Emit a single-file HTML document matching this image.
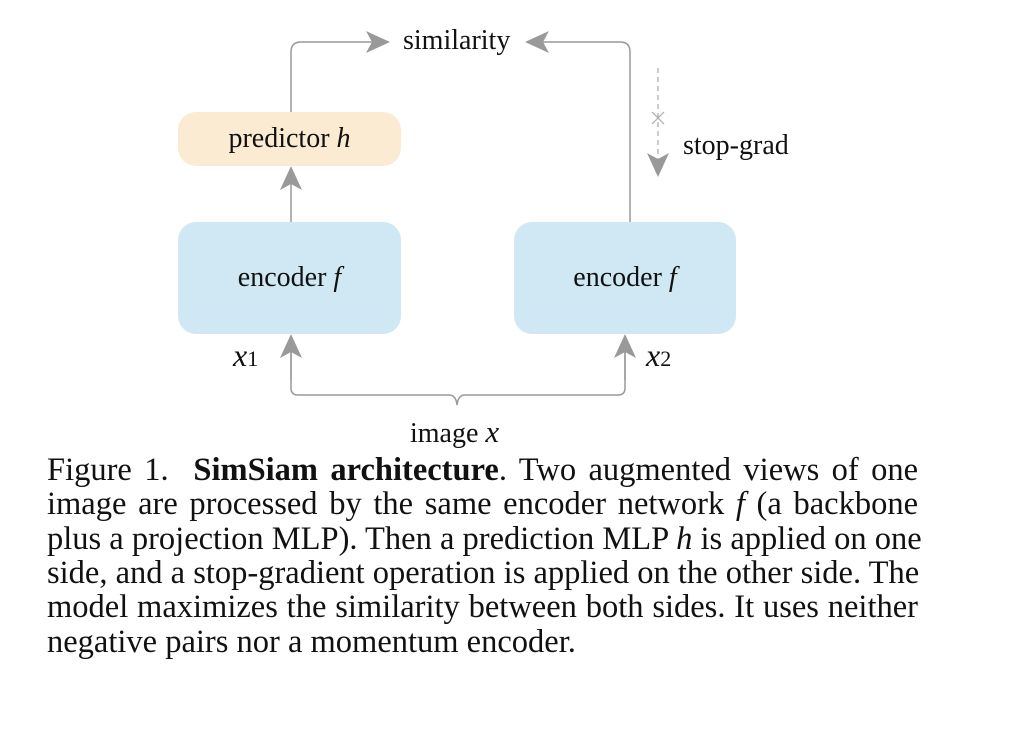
<!DOCTYPE html>
<html><head><meta charset="utf-8"><style>
body{margin:0;width:1026px;height:752px;background:#fff;position:relative;overflow:hidden;font-family:"Liberation Serif",serif;color:#111}
.box{position:absolute;border-radius:18px;display:flex;align-items:center;justify-content:center;font-size:28px}
.t{position:absolute;font-size:28px;white-space:nowrap;line-height:30px}
.cap{position:absolute;left:47px;width:871px;font-size:32.5px;line-height:34px;text-align:justify;text-align-last:justify;white-space:nowrap}
i{font-style:italic}
</style></head><body>
<svg width="1026" height="752" style="position:absolute;left:0;top:0">
<defs>
<marker id="b" viewBox="0 0 24 22" markerWidth="24" markerHeight="22" refX="22" refY="11" orient="auto" markerUnits="userSpaceOnUse"><path d="M0,0 L24,11 L0,22 L6,11 Z" fill="#999"/></marker></defs>
<g stroke="#999" stroke-width="1.5" fill="none">
<path d="M291,112 V52 Q291,42 301,42 H388" marker-end="url(#b)"/>
<path d="M630,222 V52 Q630,42 620,42 H527" marker-end="url(#b)"/>
<path d="M291,222 V168" marker-end="url(#b)"/>
<path d="M658,68 V175" stroke="#aaa" stroke-width="1.2" stroke-dasharray="5,4" marker-end="url(#b)"/>
<path d="M652,112 L664,124 M664,112 L652,124" stroke="#aaa" stroke-width="1.2"/>
<path d="M291,336 V388 Q291,395 298,395 H449 Q456,395 457,405 Q458,395 465,395 H618 Q625,395 625,388 V336"/>
<path d="M291,380 V336" marker-end="url(#b)"/>
<path d="M625,380 V336" marker-end="url(#b)"/>
</g></svg>
<div class="box" style="left:178px;top:112px;width:223px;height:54px;background:#fbebd3">predictor&nbsp;<i>h</i></div>
<div class="box" style="left:178px;top:222px;width:223px;height:112px;background:#d0e8f3">encoder&nbsp;<i>f</i></div>
<div class="box" style="left:514px;top:222px;width:222px;height:112px;background:#d0e8f3">encoder&nbsp;<i>f</i></div>
<div class="t" style="left:403px;top:26px">similarity</div>
<div class="t" style="left:683px;top:131px">stop-grad</div>
<div class="t" style="left:233px;top:340px;font-size:32px"><i>x</i><span style="font-size:22px">1</span></div>
<div class="t" style="left:646px;top:340px;font-size:32px"><i>x</i><span style="font-size:22px">2</span></div>
<div class="t" style="left:410px;top:417px">image <i style="font-size:31px">x</i></div>
<div class="cap" style="top:453px">Figure 1. &nbsp;<b>SimSiam architecture</b>. Two augmented views of one</div>
<div class="cap" style="top:487px">image are processed by the same encoder network <i>f</i> (a backbone</div>
<div class="cap" style="top:522px">plus a projection MLP). Then a prediction MLP <i>h</i> is applied on one</div>
<div class="cap" style="top:556px">side, and a stop-gradient operation is applied on the other side. The</div>
<div class="cap" style="top:590px">model maximizes the similarity between both sides. It uses neither</div>
<div class="cap" style="top:625px;text-align-last:left;width:auto">negative pairs nor a momentum encoder.</div>
</body></html>
